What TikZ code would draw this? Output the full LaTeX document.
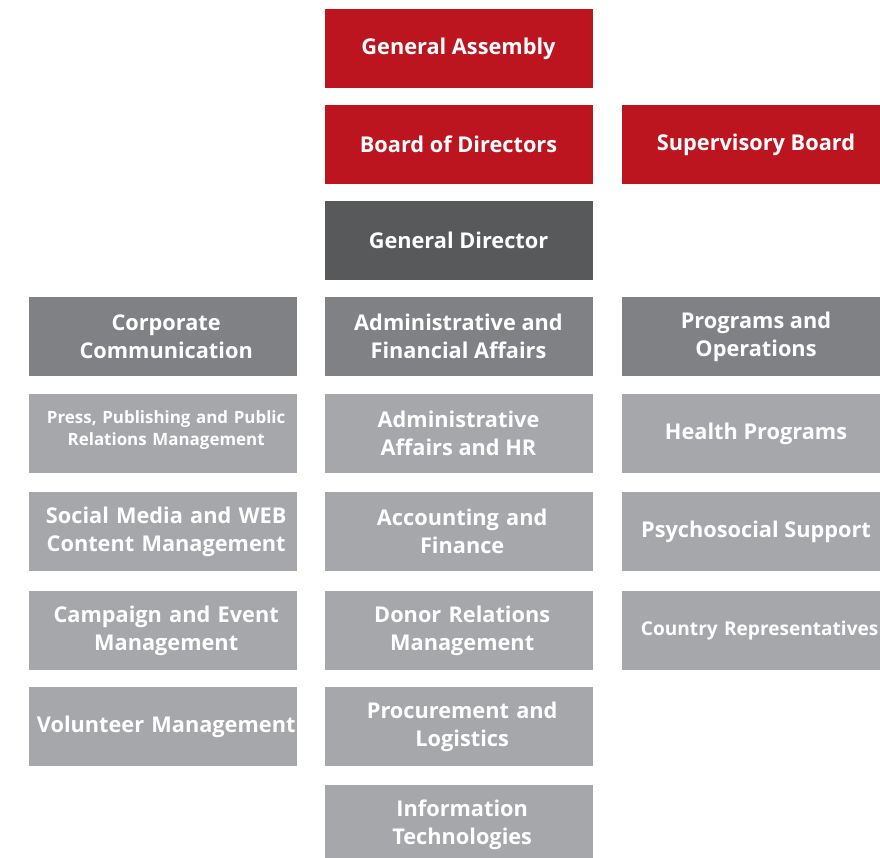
\documentclass[tikz,border=0pt]{standalone}
\usepackage{fontspec}
\setmainfont{Open Sans}
\definecolor{boardred}{HTML}{BD1520}
\definecolor{directorgray}{HTML}{58595B}
\definecolor{deptgray}{HTML}{808184}
\definecolor{unitgray}{HTML}{A6A7AB}
\newcommand{\nudge}{\hspace*{5.5pt}}
\tikzset{
	box/.style={minimum width=201pt,minimum height=59.25pt,inner sep=0pt,
		text=white,align=center,font=\bfseries\fontsize{16.3}{21}\selectfont},
	board/.style={box,fill=boardred},
	director/.style={box,fill=directorgray},
	dept/.style={box,fill=deptgray},
	unit/.style={box,fill=unitgray},
	wide/.style={text width=200pt},
	smalltext/.style={font=\bfseries\fontsize{12.7}{16.5}\selectfont},
}
\begin{document}
\begin{tikzpicture}[x=0.75pt,y=-0.75pt]
		\useasboundingbox (0,0) rectangle (880,857);
		\clip (0,0) rectangle (880,857);
		% top of the chart
		\node[board] (assembly) at (458.5,48.5) {General Assembly};
		\node[board] (board) at (458.5,144.5) {Board of Directors};
		\node[board] (supervisory) at (756,144.5) {Supervisory Board};
		\node[director] (director) at (458.5,240.5) {General Director};
		% left column
		\node[dept,wide] (corporate) at (162.5,336.5) {\nudge Corporate\\\nudge Communication};
		\node[unit,wide,smalltext] (press) at (162.5,433.5) {\nudge Press, Publishing and Public\\\nudge Relations Management\\[-8pt]\rule{0pt}{0pt}};
		\node[unit,wide] (social) at (162.5,531.5) {\nudge Social Media and WEB\\\nudge Content Management};
		\node[unit,wide] (campaign) at (162.5,630.5) {\nudge Campaign and Event\\\nudge Management};
		\node[unit,wide] (volunteer) at (162.5,726.5) {\nudge Volunteer Management};
		% middle column
		\node[dept] (admin) at (458.5,336.5) {Administrative and\\Financial Affairs};
		\node[unit] (hr) at (458.5,433.5) {Administrative\\Affairs and HR};
		\node[unit,wide] (finance) at (458.5,531.5) {\nudge Accounting and\\\nudge Finance};
		\node[unit,wide] (donor) at (458.5,630.5) {\nudge Donor Relations\\\nudge Management};
		\node[unit,wide] (procurement) at (458.5,726.5) {\nudge Procurement and\\\nudge Logistics};
		\node[unit,wide] (it) at (458.5,824.5) {\nudge Information\\\nudge Technologies};
		% right column
		\node[dept] (programs) at (756,336.5) {Programs and\\Operations};
		\node[unit] (health) at (756,433.5) {Health Programs};
		\node[unit] (psycho) at (756,531.5) {Psychosocial Support};
		\node[unit,wide,font=\bfseries\fontsize{14.3}{17}\selectfont] (country) at (756,630.5) {\nudge Country Representatives};
\end{tikzpicture}
\end{document}
